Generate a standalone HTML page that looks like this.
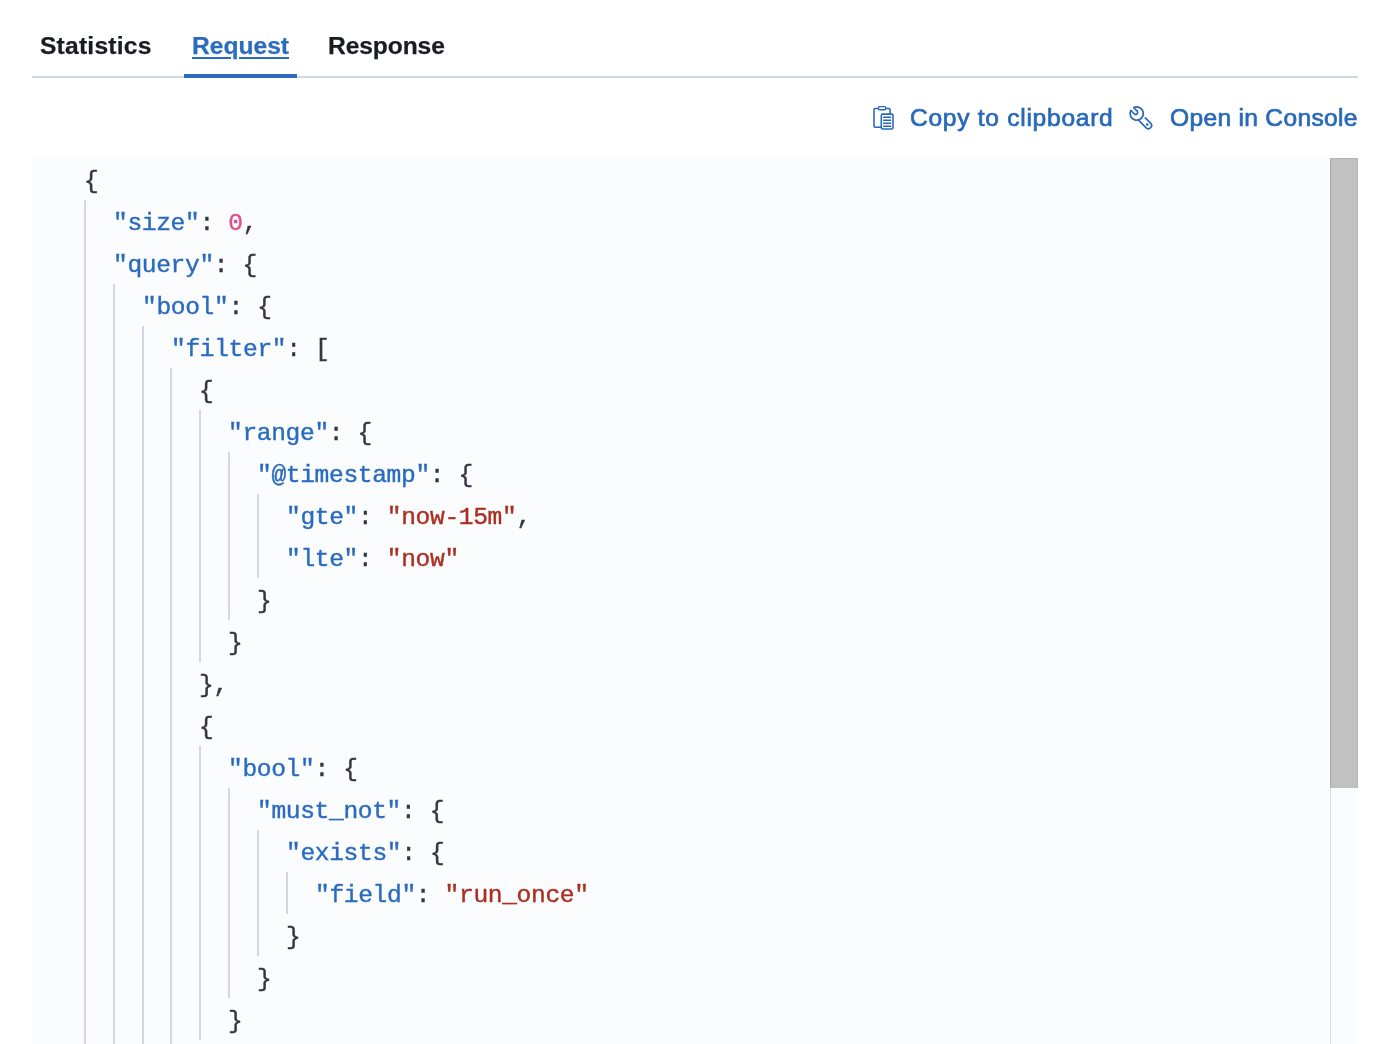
<!DOCTYPE html>
<html lang="en"><head><meta charset="utf-8"><title>Inspector – Request</title>
<style>
html,body{margin:0;padding:0;background:#fff;}
body{width:1384px;height:1044px;overflow:hidden;position:relative;font-family:"Liberation Sans",sans-serif;}
.tabs{position:absolute;left:32px;top:0;width:1326px;height:76px;border-bottom:2px solid #d1d7e4;}
.tab{will-change:transform;position:absolute;top:31px;font-weight:bold;font-size:24.6px;-webkit-text-stroke:0.25px;line-height:30px;color:#1a1c21;white-space:nowrap;}
.tab.sel{color:#2c6cbf;text-decoration:underline;text-decoration-thickness:2px;text-underline-offset:2.5px;}
.selbar{position:absolute;left:152px;top:74px;width:113px;height:4px;background:#2d6dbe;}
.btn{will-change:transform;position:absolute;top:102.6px;font-size:24.6px;line-height:30px;color:#2969ba;white-space:nowrap;-webkit-text-stroke:0.7px #2969ba;}
.ico{position:absolute;}
.code{position:absolute;left:32px;top:158px;width:1326px;height:886px;background:#fbfcfd;overflow:hidden;font-family:"Liberation Mono","DejaVu Sans Mono",monospace;font-size:24.6px;letter-spacing:-0.36px;}
.ln{position:absolute;left:0;width:1298px;height:42px;line-height:42px;}
.tx{position:absolute;top:2px;will-change:transform;-webkit-text-stroke:0.4px;white-space:pre;color:#343741;}
.g{position:absolute;top:-1px;width:2px;height:42px;background:#d2d7e4;}
.k{color:#2a6bbf;} .n{color:#dd4f8c;} .s{color:#ab2e21;} .p{color:#343741;}
.sb{position:absolute;left:1298px;top:0;width:28px;height:886px;border-left:1px solid #dcdde1;box-sizing:border-box;}
.thumb{position:absolute;left:-1px;top:0;width:28px;height:630px;background:#c1c1c1;box-shadow:inset 1px 0 0 #a9a9a9, inset 0 1px 0 #b4b4b4, inset -1px 0 0 #b8b8b8;}
</style></head><body>
<div class="tabs">
  <span class="tab" style="left:8.3px;letter-spacing:0.22px">Statistics</span>
  <span class="tab sel" style="left:160px;letter-spacing:0px">Request</span>
  <span class="tab" style="left:296px;letter-spacing:-0.1px">Response</span>
  <div class="selbar"></div>
</div>
<svg class="ico" style="left:866px;top:102px" width="34" height="32" viewBox="0 0 34 32" fill="none" stroke="#2868b9" stroke-width="1.55" stroke-linejoin="round" stroke-linecap="round">
  <path d="M11.8 6.45H9.2a1.2 1.2 0 0 0-1.2 1.2V24.1a1.2 1.2 0 0 0 1.2 1.2H15.3"/>
  <path d="M20.1 6.45H22.9a1.2 1.2 0 0 1 1.2 1.2V12.1"/>
  <rect x="12.5" y="4.65" width="7.2" height="3.1" rx="1.0" stroke-width="1.4"/>
  <rect x="15.3" y="12.1" width="11.7" height="14.9" rx="1.3"/>
  <path d="M17.6 15.2H24.7M17.6 18.25H24.7M17.6 21.25H24.7M17.6 24.2H24.7" stroke-width="1.4"/>
</svg>
<span class="btn" style="left:909.8px;letter-spacing:0.71px">Copy to clipboard</span>
<svg class="ico" style="left:1124px;top:102px" width="34" height="32" viewBox="0 0 34 32" fill="none" stroke="#2868b9" stroke-width="1.65" stroke-linejoin="round" stroke-linecap="round">
  <path d="M9.7 5.6A6.65 6.65 0 1 1 6.8 8.4L10.5 12A2 2 0 0 0 13.3 9.2Z"/>
  <path d="M14 17.6L22.2 25.8A3.2 3.2 0 0 0 26.74 21.3L21.3 15.86"/>
  <circle cx="23.2" cy="22.4" r="1.25" fill="#2868b9" stroke="none"/>
</svg>
<span class="btn" style="left:1170px;letter-spacing:0.3px">Open in Console</span>
<div class="code">
<div class="ln" style="top:1px"><span class="tx" style="left:52.1px"><span class="p">{</span></span></div>
<div class="ln" style="top:43px"><i class="g" style="left:52.0px"></i><span class="tx" style="left:80.9px"><span class="k">"size"</span><span class="p">: </span><span class="n">0</span><span class="p">,</span></span></div>
<div class="ln" style="top:85px"><i class="g" style="left:52.0px"></i><span class="tx" style="left:80.9px"><span class="k">"query"</span><span class="p">: {</span></span></div>
<div class="ln" style="top:127px"><i class="g" style="left:52.0px"></i><i class="g" style="left:80.8px"></i><span class="tx" style="left:109.7px"><span class="k">"bool"</span><span class="p">: {</span></span></div>
<div class="ln" style="top:169px"><i class="g" style="left:52.0px"></i><i class="g" style="left:80.8px"></i><i class="g" style="left:109.6px"></i><span class="tx" style="left:138.5px"><span class="k">"filter"</span><span class="p">: [</span></span></div>
<div class="ln" style="top:211px"><i class="g" style="left:52.0px"></i><i class="g" style="left:80.8px"></i><i class="g" style="left:109.6px"></i><i class="g" style="left:138.4px"></i><span class="tx" style="left:167.3px"><span class="p">{</span></span></div>
<div class="ln" style="top:253px"><i class="g" style="left:52.0px"></i><i class="g" style="left:80.8px"></i><i class="g" style="left:109.6px"></i><i class="g" style="left:138.4px"></i><i class="g" style="left:167.2px"></i><span class="tx" style="left:196.1px"><span class="k">"range"</span><span class="p">: {</span></span></div>
<div class="ln" style="top:295px"><i class="g" style="left:52.0px"></i><i class="g" style="left:80.8px"></i><i class="g" style="left:109.6px"></i><i class="g" style="left:138.4px"></i><i class="g" style="left:167.2px"></i><i class="g" style="left:196.0px"></i><span class="tx" style="left:224.9px"><span class="k">"@timestamp"</span><span class="p">: {</span></span></div>
<div class="ln" style="top:337px"><i class="g" style="left:52.0px"></i><i class="g" style="left:80.8px"></i><i class="g" style="left:109.6px"></i><i class="g" style="left:138.4px"></i><i class="g" style="left:167.2px"></i><i class="g" style="left:196.0px"></i><i class="g" style="left:224.8px"></i><span class="tx" style="left:253.7px"><span class="k">"gte"</span><span class="p">: </span><span class="s">"now-15m"</span><span class="p">,</span></span></div>
<div class="ln" style="top:379px"><i class="g" style="left:52.0px"></i><i class="g" style="left:80.8px"></i><i class="g" style="left:109.6px"></i><i class="g" style="left:138.4px"></i><i class="g" style="left:167.2px"></i><i class="g" style="left:196.0px"></i><i class="g" style="left:224.8px"></i><span class="tx" style="left:253.7px"><span class="k">"lte"</span><span class="p">: </span><span class="s">"now"</span></span></div>
<div class="ln" style="top:421px"><i class="g" style="left:52.0px"></i><i class="g" style="left:80.8px"></i><i class="g" style="left:109.6px"></i><i class="g" style="left:138.4px"></i><i class="g" style="left:167.2px"></i><i class="g" style="left:196.0px"></i><span class="tx" style="left:224.9px"><span class="p">}</span></span></div>
<div class="ln" style="top:463px"><i class="g" style="left:52.0px"></i><i class="g" style="left:80.8px"></i><i class="g" style="left:109.6px"></i><i class="g" style="left:138.4px"></i><i class="g" style="left:167.2px"></i><span class="tx" style="left:196.1px"><span class="p">}</span></span></div>
<div class="ln" style="top:505px"><i class="g" style="left:52.0px"></i><i class="g" style="left:80.8px"></i><i class="g" style="left:109.6px"></i><i class="g" style="left:138.4px"></i><span class="tx" style="left:167.3px"><span class="p">},</span></span></div>
<div class="ln" style="top:547px"><i class="g" style="left:52.0px"></i><i class="g" style="left:80.8px"></i><i class="g" style="left:109.6px"></i><i class="g" style="left:138.4px"></i><span class="tx" style="left:167.3px"><span class="p">{</span></span></div>
<div class="ln" style="top:589px"><i class="g" style="left:52.0px"></i><i class="g" style="left:80.8px"></i><i class="g" style="left:109.6px"></i><i class="g" style="left:138.4px"></i><i class="g" style="left:167.2px"></i><span class="tx" style="left:196.1px"><span class="k">"bool"</span><span class="p">: {</span></span></div>
<div class="ln" style="top:631px"><i class="g" style="left:52.0px"></i><i class="g" style="left:80.8px"></i><i class="g" style="left:109.6px"></i><i class="g" style="left:138.4px"></i><i class="g" style="left:167.2px"></i><i class="g" style="left:196.0px"></i><span class="tx" style="left:224.9px"><span class="k">"must_not"</span><span class="p">: {</span></span></div>
<div class="ln" style="top:673px"><i class="g" style="left:52.0px"></i><i class="g" style="left:80.8px"></i><i class="g" style="left:109.6px"></i><i class="g" style="left:138.4px"></i><i class="g" style="left:167.2px"></i><i class="g" style="left:196.0px"></i><i class="g" style="left:224.8px"></i><span class="tx" style="left:253.7px"><span class="k">"exists"</span><span class="p">: {</span></span></div>
<div class="ln" style="top:715px"><i class="g" style="left:52.0px"></i><i class="g" style="left:80.8px"></i><i class="g" style="left:109.6px"></i><i class="g" style="left:138.4px"></i><i class="g" style="left:167.2px"></i><i class="g" style="left:196.0px"></i><i class="g" style="left:224.8px"></i><i class="g" style="left:253.6px"></i><span class="tx" style="left:282.5px"><span class="k">"field"</span><span class="p">: </span><span class="s">"run_once"</span></span></div>
<div class="ln" style="top:757px"><i class="g" style="left:52.0px"></i><i class="g" style="left:80.8px"></i><i class="g" style="left:109.6px"></i><i class="g" style="left:138.4px"></i><i class="g" style="left:167.2px"></i><i class="g" style="left:196.0px"></i><i class="g" style="left:224.8px"></i><span class="tx" style="left:253.7px"><span class="p">}</span></span></div>
<div class="ln" style="top:799px"><i class="g" style="left:52.0px"></i><i class="g" style="left:80.8px"></i><i class="g" style="left:109.6px"></i><i class="g" style="left:138.4px"></i><i class="g" style="left:167.2px"></i><i class="g" style="left:196.0px"></i><span class="tx" style="left:224.9px"><span class="p">}</span></span></div>
<div class="ln" style="top:841px"><i class="g" style="left:52.0px"></i><i class="g" style="left:80.8px"></i><i class="g" style="left:109.6px"></i><i class="g" style="left:138.4px"></i><i class="g" style="left:167.2px"></i><span class="tx" style="left:196.1px"><span class="p">}</span></span></div>
<div class="ln" style="top:883px"><i class="g" style="left:52.0px"></i><i class="g" style="left:80.8px"></i><i class="g" style="left:109.6px"></i><i class="g" style="left:138.4px"></i></div>
<div class="sb"><div class="thumb"></div></div>
</div>
</body></html>
